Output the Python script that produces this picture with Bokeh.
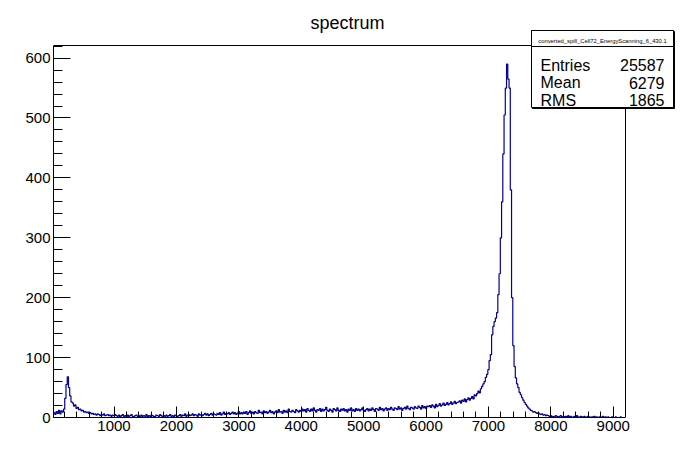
from bokeh.plotting import figure
from bokeh.models import SingleIntervalTicker, BoxAnnotation, Label, Range1d
from bokeh.embed import file_html
from bokeh.resources import INLINE

# ---- histogram data (bin width 20, first bin starts at 30) ----
bin_start = 30
bin_width = 20

counts_30_1030 = [8, 5, 10, 7, 12, 6, 11, 9, 14, 32, 55, 68, 50, 36, 26, 24, 19, 21, 15, 17,
                  13, 14, 11, 12, 9, 10, 8, 9, 7, 8, 6, 7, 5, 6, 4, 6, 5, 3, 5, 4,
                  6, 3, 4, 5, 3, 4, 2, 4, 3, 5]
counts_1030_2030 = [3, 2, 4, 1, 3, 5, 2, 3, 1, 4, 2, 3, 5, 2, 1, 3, 4, 2, 3, 1,
                    4, 2, 3, 2, 5, 1, 3, 2, 4, 3, 1, 2, 4, 3, 2, 5, 3, 1, 3, 2,
                    4, 2, 3, 5, 2, 3, 1, 4, 3, 2]
counts_2030_3030 = [3, 5, 2, 4, 3, 6, 2, 4, 5, 3, 4, 6, 3, 5, 4, 2, 6, 4, 5, 3,
                    5, 7, 4, 6, 3, 5, 7, 4, 6, 5, 4, 7, 5, 8, 4, 6, 9, 5, 7, 6,
                    8, 5, 7, 9, 6, 8, 5, 7, 10, 6]
counts_3030_4030 = [8, 6, 9, 7, 10, 5, 8, 11, 7, 9, 6, 10, 8, 7, 12, 8, 9, 6, 11, 8,
                    10, 7, 9, 12, 8, 10, 6, 9, 11, 8, 13, 9, 10, 7, 12, 9, 11, 8, 14, 10,
                    9, 12, 10, 8, 13, 11, 9, 12, 10, 14]
counts_4030_5030 = [11, 13, 9, 15, 12, 10, 14, 11, 16, 12, 9, 13, 12, 15, 10, 14, 11, 13, 17, 12,
                    10, 14, 12, 9, 15, 13, 11, 16, 12, 10, 14, 12, 15, 11, 13, 9, 14, 12, 16, 11,
                    13, 10, 15, 12, 14, 11, 13, 16, 12, 10]
counts_5030_6030 = [13, 15, 11, 14, 12, 16, 13, 10, 15, 14, 12, 17, 13, 15, 11, 14, 16, 12, 15, 13,
                    17, 14, 12, 16, 15, 13, 18, 14, 16, 12, 15, 17, 14, 19, 15, 13, 17, 16, 14, 18,
                    16, 15, 19, 17, 14, 20, 16, 18, 15, 19]
counts_6030_7030 = [18, 20, 17, 21, 19, 16, 22, 18, 20, 23, 19, 21, 24, 20,
                    22, 25, 21, 23, 26, 22, 24, 27, 23, 25,
                    26, 28, 24, 29, 27, 31, 26, 30, 33, 29,
                    32, 35, 31, 38, 36, 40, 44, 41, 48, 52,
                    56, 60, 67, 72, 80, 95]
counts_7030_8030 = [105, 138, 152, 160, 166, 175, 205, 240, 300, 360,
                    440, 505, 550, 590, 565, 550, 380, 200, 120, 85,
                    66, 56, 50, 42, 38, 33, 29, 25, 22, 19,
                    16, 14, 12, 11, 9, 10, 8, 7, 8, 6,
                    5, 6, 4, 5, 3, 4, 3, 2, 3, 1]
counts_8030_9190 = [2, 1, 3, 2, 1, 2, 3, 1, 2, 1, 2, 1, 3, 1, 2, 0, 1, 2, 1, 3,
                    1, 0, 2, 1, 1, 2, 0, 1, 2, 1, 0, 1, 1, 2, 0, 1, 0, 1, 1, 0,
                    2, 0, 1, 0, 1, 0, 0, 1, 0, 0, 1, 0, 0, 0, 1, 0, 0, 0]

counts = (counts_30_1030 + counts_1030_2030 + counts_2030_3030 + counts_3030_4030 +
          counts_4030_5030 + counts_5030_6030 + counts_6030_7030 + counts_7030_8030 +
          counts_8030_9190)

hist_name = "converted_spill_Cell72_EnergyScanning_6_430.1"
stat_names = ["Entries", "Mean", "RMS"]
stat_values = ["25587", "6279", "1865"]
title_text = "spectrum"

# axis ranges of the histogram frame
x_min, x_max = 30, 9196
y_min, y_max = 0, 621

edges = [bin_start + bin_width * i for i in range(len(counts) + 1)]
ys = counts + [counts[-1]]

FONT = "Liberation Sans"
W, H = 676, 433

# pixel layout: the bokeh frame fills the canvas right/top so that the stats box
# and the title (drawn as annotations) are not clipped; the ROOT-like frame is a sub-box
BORDER_L, BORDER_B = 53, 16
FR_LEFT, FR_RIGHT, FR_TOP, FR_BOTTOM = 53, 625, 45, H - BORDER_B
x_per_px = (x_max - x_min) / (FR_RIGHT - FR_LEFT)
y_per_px = (y_max - y_min) / (FR_BOTTOM - FR_TOP)
x_end = x_min + (W - FR_LEFT) * x_per_px
y_end = y_min + FR_BOTTOM * y_per_px

p = figure(width=W, height=H, output_backend="svg", toolbar_location=None,
           x_range=Range1d(x_min, x_end), y_range=Range1d(y_min, y_end),
           min_border_left=BORDER_L, min_border_right=0, min_border_top=0,
           min_border_bottom=BORDER_B)
p.background_fill_color = "white"
p.border_fill_color = "white"
p.outline_line_color = None
p.xgrid.grid_line_color = None
p.ygrid.grid_line_color = None

p.step(edges, ys, mode="after", line_color="#000099", line_width=1.2)

# top and right edges of the histogram frame
p.line([x_min, x_max, x_max], [y_max, y_max, y_min], line_color="black", line_width=1)

p.xaxis.ticker = SingleIntervalTicker(interval=1000, num_minor_ticks=5)
p.yaxis.ticker = SingleIntervalTicker(interval=100, num_minor_ticks=5)
p.xaxis.bounds = (x_min, x_max)
p.yaxis.bounds = (y_min, y_max)
for ax in (p.xaxis[0], p.yaxis[0]):
    ax.axis_line_color = "black"
    ax.major_tick_line_color = "black"
    ax.minor_tick_line_color = "black"
    ax.major_tick_out = 0
    ax.minor_tick_out = 0
    ax.major_label_text_font = FONT
    ax.major_label_text_font_size = "15px"
    ax.major_label_text_color = "black"
    ax.major_label_standoff = 3
p.xaxis.major_tick_in = 11
p.xaxis.minor_tick_in = 6
p.yaxis.major_tick_in = 17
p.yaxis.minor_tick_in = 9

# title
p.add_layout(Label(x=347, y=22, x_units="canvas", y_units="canvas", text=title_text,
                   text_font=FONT, text_font_size="18px", text_align="center",
                   text_baseline="alphabetic", text_color="black"))

# stats box
bl, br, bt, bb = 531, 673, 30, 107
sep = 46
def canvas_box(l, r, t, b, fill):
    return BoxAnnotation(left=l, right=r, top=t, bottom=b,
                         left_units="canvas", right_units="canvas", top_units="canvas",
                         bottom_units="canvas", fill_color=fill, fill_alpha=1,
                         line_color="black", line_alpha=1, line_width=1)
p.add_layout(canvas_box(bl + 1, br + 1, bt + 1, bb + 1, "black"))
p.add_layout(canvas_box(bl, br, bt, bb, "white"))
p.add_layout(canvas_box(bl, br, bt, sep, "white"))
p.add_layout(Label(x=(bl + br) / 2, y=40.5, x_units="canvas", y_units="canvas", text=hist_name,
                   text_font=FONT, text_font_size="5.8px", text_align="center",
                   text_baseline="alphabetic", text_color="black"))
row_y = [64.5, 82, 99.5]
for name, val, yy in zip(stat_names, stat_values, row_y):
    p.add_layout(Label(x=bl + 9, y=yy, x_units="canvas", y_units="canvas", text=name,
                       text_font=FONT, text_font_size="16px", text_align="left",
                       text_baseline="alphabetic", text_color="black"))
    p.add_layout(Label(x=br - 9, y=yy, x_units="canvas", y_units="canvas", text=val,
                       text_font=FONT, text_font_size="16px", text_align="right",
                       text_baseline="alphabetic", text_color="black"))

open("out.html", "w").write(file_html(p, INLINE))
